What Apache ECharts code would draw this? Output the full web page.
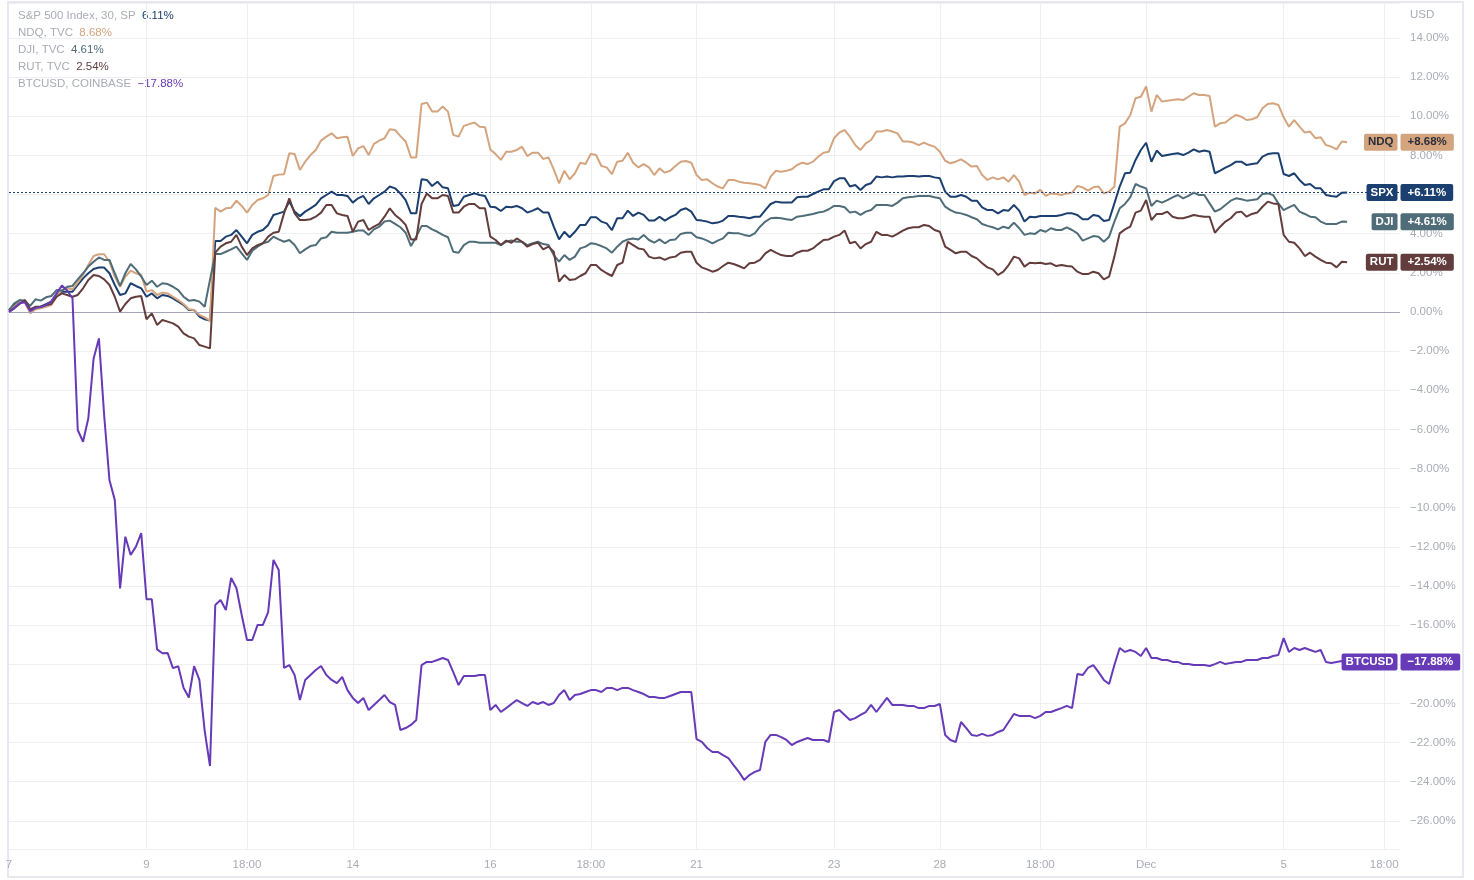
<!DOCTYPE html>
<html><head><meta charset="utf-8">
<script src="https://cdn.jsdelivr.net/npm/echarts@6/dist/echarts.min.js"></script>
<style>html,body{margin:0;padding:0;background:#fff}#chart{width:1474px;height:880px}</style>
</head><body><div id="chart"></div>
<script>
const spx = [
0.1,0.35,0.58,0.53,0.1,0.27,0.27,0.4,0.53,0.87,
1.04,1.04,1.04,1.38,1.72,1.98,2.2,2.27,2.27,1.98,
1.38,0.87,0.95,1.47,1.33,1.21,0.78,0.95,0.7,0.87,
0.82,0.7,0.53,0.36,0.1,0.1,-0.24,-0.37,-0.44,3.63,
3.63,3.85,3.94,4.19,3.85,3.51,3.94,4.1,4.19,4.45,
4.96,5.04,5.13,5.64,5.13,4.9,5.13,5.3,5.47,5.81,
5.98,6.15,5.98,5.98,5.93,5.59,5.81,5.93,5.52,5.81,
5.98,6.15,6.41,6.32,6.06,5.72,5.04,5.04,6.78,6.75,
6.44,6.66,6.37,6.32,5.42,5.47,5.89,5.98,6.06,5.98,
5.93,5.38,5.35,5.16,5.38,5.35,5.42,5.3,5.08,5.18,
5.3,5.08,5.08,4.36,3.71,4.1,3.82,4.1,4.45,4.45,
4.84,4.84,4.62,4.53,4.19,4.79,4.79,5.18,4.91,5.08,
4.96,4.67,4.67,4.87,4.67,4.84,4.96,5.21,5.3,5.13,
4.7,4.67,4.62,4.53,4.57,4.67,4.91,4.91,4.87,4.84,
4.79,4.87,4.87,5.21,5.52,5.64,5.6,5.6,5.6,5.86,
5.89,5.89,6.03,6.15,6.27,6.27,6.69,6.83,6.83,6.41,
6.49,6.24,6.49,6.58,6.92,6.88,6.92,6.88,6.92,6.92,
6.95,6.95,6.92,6.95,6.95,6.88,6.83,6.15,5.89,5.89,
5.98,5.89,5.69,5.69,5.35,5.21,5.21,5.04,5.21,5.18,
5.47,5.18,4.62,4.87,4.84,4.91,4.91,4.91,4.91,4.96,
5.04,5.04,4.96,4.74,4.74,4.96,4.91,4.65,4.7,5.55,
6.41,7.09,7.12,7.77,8.28,8.65,7.68,8.25,7.97,8.02,
8.07,8.11,8.02,8.14,8.31,8.19,8.25,8.19,7.09,7.23,
7.38,7.51,7.68,7.68,7.51,7.56,7.6,7.94,8.07,8.11,
8.11,7.05,6.95,7.09,6.75,6.49,6.54,6.32,6.32,5.98,
5.93,5.89,6.1,6.11];
const ndq = [
0.1,0.27,0.53,0.48,-0.07,0.14,0.19,0.27,0.36,0.78,
1.12,1.21,1.16,1.5,1.89,2.4,2.86,2.95,2.95,2.57,
1.81,1.29,1.81,2.11,1.98,1.89,1.04,1.12,0.87,0.99,
0.95,0.78,0.61,0.41,0.14,0.1,-0.15,-0.27,-0.44,5.33,
5.13,5.3,5.33,5.69,5.42,5.08,5.47,5.72,5.81,5.98,
6.95,7.02,7.04,8.11,8.07,7.26,7.68,8.02,8.28,8.76,
8.96,9.13,8.88,8.93,8.96,7.97,8.36,8.48,8.02,8.59,
8.76,8.88,9.34,9.3,8.99,8.71,7.9,7.9,10.63,10.7,
10.24,10.24,10.5,10.24,9.05,8.96,9.51,9.6,9.68,9.47,
9.44,8.31,8.07,7.77,8.19,8.19,8.28,8.45,7.97,8.14,
8.14,7.82,7.9,7.29,6.58,7.22,6.78,7.09,7.63,7.56,
8.07,8.02,7.46,7.39,7.05,7.68,7.73,8.14,7.63,7.39,
7.56,7.39,7.0,7.34,7.12,7.22,7.46,7.68,7.72,7.63,
7.0,6.75,6.78,6.58,6.41,6.32,6.75,6.75,6.66,6.61,
6.58,6.54,6.49,6.32,6.92,7.22,7.17,7.22,7.29,7.51,
7.63,7.56,7.68,7.94,8.14,8.19,8.88,9.17,9.3,8.96,
8.53,8.28,8.62,8.79,9.22,9.22,9.3,9.22,9.13,8.71,
8.71,8.66,8.53,8.66,8.53,8.45,8.19,7.73,7.6,7.68,
7.8,7.63,7.43,7.46,7.0,6.75,6.88,6.78,6.88,6.66,
7.0,6.66,5.98,6.1,6.06,6.24,5.93,6.06,6.03,5.98,
6.06,6.1,6.44,6.37,6.2,6.37,6.41,6.06,6.15,6.41,
9.47,9.64,10.07,10.92,11.0,11.52,10.24,11.09,10.75,10.8,
10.83,10.87,10.83,11.0,11.18,11.09,11.09,11.04,9.47,9.64,
9.68,9.9,10.07,9.98,9.81,9.85,9.95,10.41,10.63,10.67,
10.58,9.95,9.47,9.81,9.47,9.17,9.22,8.88,8.93,8.53,
8.45,8.31,8.71,8.68];
const dji = [
0.1,0.44,0.61,0.58,0.31,0.65,0.58,0.75,0.82,1.12,
1.09,1.29,1.33,1.67,1.98,2.32,2.57,2.79,2.66,2.66,
1.98,1.33,1.98,2.45,2.18,1.81,1.38,1.6,1.29,1.47,
1.43,1.29,1.12,0.78,0.58,0.61,0.53,0.27,1.64,2.96,
2.96,3.08,3.2,3.34,3.0,2.66,3.13,3.34,3.51,3.59,
3.85,3.71,3.59,3.68,3.42,3.0,3.2,3.37,3.42,3.76,
3.82,4.1,4.05,4.05,4.05,4.1,4.16,4.16,3.94,4.22,
4.36,4.62,4.67,4.5,4.33,4.05,3.37,3.85,4.39,4.39,
4.22,4.1,3.94,3.82,3.08,3.03,3.42,3.59,3.59,3.54,
3.54,3.54,3.54,3.42,3.59,3.65,3.59,3.59,3.42,3.51,
3.59,3.47,3.42,2.91,2.57,2.91,2.66,2.83,3.25,3.34,
3.51,3.47,3.37,3.25,3.03,3.34,3.59,3.71,3.76,3.71,
3.94,3.68,3.54,3.71,3.51,3.68,3.71,3.99,4.05,4.05,
3.82,3.76,3.65,3.51,3.65,3.76,4.05,4.02,4.02,3.94,
3.88,4.02,4.36,4.62,4.79,4.82,4.79,4.74,4.7,4.87,
4.91,4.96,5.01,5.08,5.13,5.25,5.42,5.42,5.35,5.08,
5.13,4.96,5.13,5.21,5.47,5.47,5.47,5.42,5.59,5.81,
5.86,5.89,5.93,5.93,5.93,5.86,5.81,5.38,5.21,5.08,
5.04,4.96,4.84,4.74,4.5,4.4,4.33,4.22,4.36,4.28,
4.57,4.28,3.94,4.02,3.99,4.19,4.1,4.28,4.19,4.19,
4.33,4.19,4.02,3.65,3.76,3.88,3.85,3.59,3.85,4.62,
5.3,5.52,5.86,6.54,6.41,6.32,5.42,5.69,5.59,5.72,
5.86,5.98,5.81,5.93,6.1,5.98,5.98,5.55,5.13,5.25,
5.47,5.69,5.81,5.76,5.69,5.72,5.76,6.03,6.06,5.98,
5.55,5.21,5.35,5.47,5.13,5.01,4.87,4.84,4.62,4.5,
4.5,4.5,4.62,4.61];
const rut = [
0.02,0.19,0.41,0.61,0.14,0.24,0.27,0.36,0.41,0.78,
0.95,0.87,0.78,0.87,1.21,1.64,1.89,1.84,1.67,1.38,
0.78,0.02,0.41,0.7,0.78,0.82,-0.37,-0.07,-0.66,-0.41,
-0.49,-0.58,-0.75,-1.09,-1.26,-1.35,-1.69,-1.77,-1.86,3.03,
3.34,3.51,3.59,3.94,3.34,2.91,3.25,3.42,3.51,3.85,
4.05,4.1,5.04,5.81,5.04,4.7,4.7,4.74,4.87,5.08,
5.47,5.47,5.04,4.96,4.91,4.1,4.62,4.7,4.19,4.36,
4.5,4.87,5.3,4.96,4.74,4.45,3.71,3.71,5.52,6.06,
5.81,5.81,5.98,5.93,5.08,5.08,5.38,5.52,5.52,5.3,
5.3,3.85,3.68,3.42,3.65,3.54,3.76,3.59,3.34,3.47,
3.54,3.2,3.34,3.08,1.55,1.89,1.64,1.67,1.84,1.98,
2.4,2.4,2.15,1.98,1.84,2.4,2.52,3.59,3.42,3.25,
3.2,2.83,2.74,2.79,2.66,2.79,2.83,3.03,3.08,3.08,
2.52,2.28,2.18,2.06,2.15,2.35,2.52,2.45,2.35,2.23,
2.49,2.52,2.66,3.0,3.17,3.03,2.91,2.86,2.86,3.03,
3.13,3.13,3.25,3.47,3.68,3.71,3.85,3.94,4.16,3.51,
3.59,3.25,3.47,3.59,4.1,3.94,3.94,3.85,3.99,4.16,
4.28,4.33,4.33,4.45,4.39,4.19,4.1,3.34,3.17,3.0,
3.08,3.08,2.86,2.74,2.49,2.28,2.18,1.89,2.06,2.4,
2.83,2.74,2.32,2.52,2.49,2.52,2.45,2.49,2.35,2.4,
2.35,2.32,2.06,1.94,1.94,2.06,1.98,1.67,1.81,2.83,
4.02,4.22,4.36,5.08,5.18,5.72,4.7,5.01,5.01,5.13,
4.87,4.79,4.79,4.87,4.96,4.91,4.87,4.87,4.05,4.36,
4.62,4.79,5.08,5.13,4.87,5.01,5.08,5.38,5.64,5.55,
5.52,3.94,3.59,3.54,3.25,2.86,3.03,2.83,2.66,2.52,
2.49,2.28,2.57,2.54];
const btc = [
0,0.2,0.45,0.5,0.05,0.2,0.25,0.35,0.55,0.95,
1.35,1.1,0.7,-6.03,-6.63,-5.43,-2.37,-1.35,-5.3,-8.6,
-9.6,-14.12,-11.48,-12.42,-11.99,-11.3,-14.68,-14.68,-17.24,-17.44,
-17.43,-18.2,-18.1,-19.2,-19.7,-18.1,-18.8,-21.4,-23.2,-14.97,
-14.72,-15.23,-13.59,-14.1,-15.48,-16.76,-16.76,-15.99,-15.99,-15.33,
-12.67,-13.18,-18.19,-18.04,-18.55,-19.83,-18.8,-18.55,-18.29,-18.09,
-18.55,-18.8,-18.96,-18.65,-19.32,-19.72,-19.98,-19.72,-20.34,-20.08,
-19.83,-19.57,-19.93,-20.08,-21.36,-21.26,-21.1,-20.85,-18.04,-17.88,
-17.88,-17.78,-17.68,-17.78,-18.4,-19.06,-18.6,-18.6,-18.6,-18.55,
-18.55,-20.34,-20.08,-20.44,-20.24,-20.03,-19.83,-19.98,-20.13,-19.93,
-20.03,-19.93,-20.08,-19.98,-19.57,-19.32,-19.83,-19.57,-19.52,-19.42,
-19.32,-19.32,-19.42,-19.21,-19.21,-19.32,-19.21,-19.21,-19.32,-19.42,
-19.52,-19.67,-19.67,-19.72,-19.72,-19.62,-19.52,-19.42,-19.42,-19.42,
-21.82,-21.97,-22.28,-22.48,-22.48,-22.64,-22.79,-23.15,-23.5,-23.91,
-23.66,-23.5,-23.4,-21.97,-21.61,-21.61,-21.72,-21.87,-22.13,-21.97,
-21.87,-21.77,-21.87,-21.87,-21.87,-21.97,-20.44,-20.34,-20.59,-20.85,
-20.75,-20.59,-20.44,-20.08,-20.44,-20.08,-19.72,-20.08,-20.08,-20.08,
-20.13,-20.13,-20.24,-20.24,-20.13,-20.13,-20.03,-21.61,-21.87,-21.97,
-20.95,-21.26,-21.61,-21.66,-21.56,-21.66,-21.61,-21.46,-21.36,-20.95,
-20.54,-20.64,-20.64,-20.64,-20.75,-20.64,-20.44,-20.44,-20.34,-20.24,
-20.13,-20.24,-18.5,-18.55,-18.19,-18.04,-18.4,-18.8,-19.01,-18.04,
-17.17,-17.37,-17.27,-17.37,-17.58,-17.17,-17.68,-17.68,-17.78,-17.78,
-17.88,-17.88,-17.99,-17.99,-18.04,-18.04,-18.04,-18.09,-17.99,-17.88,
-17.99,-17.93,-17.88,-17.88,-17.78,-17.78,-17.78,-17.68,-17.68,-17.58,
-17.53,-16.66,-17.37,-17.17,-17.27,-17.17,-17.27,-17.37,-17.27,-17.88,
-17.93,-17.88,-17.83,-17.88];

const seriesNames = ['SPX', 'NDQ', 'DJI', 'RUT', 'BTCUSD'];
const legendNames = ['S&P 500 Index, 30, SP', 'NDQ, TVC', 'DJI, TVC', 'RUT, TVC', 'BTCUSD, COINBASE'];
const tickLabels = {0:'7', 26:'9', 45:'18:00', 65:'14', 91:'16', 110:'18:00', 130:'21', 156:'23', 176:'28', 195:'18:00', 215:'Dec', 241:'5', 260:'18:00'};
const barCount = 264;
const categories = Array.from({length: barCount}, (_, i) => String(i));

const colors = ['#1b3f6e', '#d4a47f', '#4f6c79', '#633c3c', '#673ab7'];
const boxText = ['#ffffff', '#2a2e39', '#ffffff', '#ffffff', '#ffffff'];
const FONT = '"Liberation Sans", Arial, sans-serif';
const GREY = '#a9acb5';

const fmtPct = v => (v < 0 ? '\u2212' : '') + Math.abs(v).toFixed(2) + '%';
const fmtSigned = v => (v < 0 ? '\u2212' : '+') + Math.abs(v).toFixed(2) + '%';

const allData = [spx, ndq, dji, rut, btc];

const series = allData.map((d, k) => {
  const last = d.length - 1;
  const boxLabel = {
    show: true, backgroundColor: colors[k], color: boxText[k], fontSize: 11.5,
    fontWeight: 'bold', fontFamily: FONT, borderRadius: 2, lineHeight: 12
  };
  const s = {
    name: seriesNames[k], type: 'line', data: d, showSymbol: false, symbol: 'none',
    lineStyle: {color: colors[k], width: 2}, itemStyle: {color: colors[k]},
    z: 3 + k, animation: false, silent: true,
    markPoint: {
      symbol: 'rect', symbolSize: 1, itemStyle: {color: 'rgba(0,0,0,0)'},
      animation: false, z: 20, silent: true,
      data: [
        {coord: [last, d[last]], x: 1398,
          label: Object.assign({}, boxLabel, {position: 'left', distance: 0, padding: [3, 4, 2, 4], formatter: seriesNames[k]})},
        {coord: [last, d[last]], x: 1400,
          label: Object.assign({}, boxLabel, {position: 'right', distance: 0, padding: [3, 7, 2, 7], formatter: fmtSigned(d[last])})}
      ]
    }
  };
  if (k === 0) {
    s.markLine = {
      symbol: 'none', silent: true, animation: false, label: {show: false},
      data: [
        {yAxis: d[last], lineStyle: {type: [2, 2], color: colors[0], width: 1}},
        {yAxis: 0, lineStyle: {type: 'solid', color: '#a7a4b8', width: 1}}
      ]
    };
  }
  return s;
});

const legendGraphics = legendNames.map((n, k) => {
  const d = allData[k];
  const v = d[d.length - 1];
  return {
    type: 'text', left: 18, top: 10 + k * 17, silent: true,
    style: {
      text: '{n|' + n + '}  {v|' + fmtPct(v) + '}',
      fontSize: 11.5, fontFamily: FONT, fill: GREY,
      rich: {n: {fill: GREY, fontSize: 11.5, fontFamily: FONT}, v: {fill: colors[k], fontSize: 11.5, fontFamily: FONT}}
    }
  };
});

const chart = echarts.init(document.getElementById('chart'), null, {renderer: 'canvas'});
chart.setOption({
  animation: false,
  backgroundColor: '#ffffff',
  grid: {left: 9, right: 74, top: 3, bottom: 31},
  xAxis: {
    type: 'category', data: categories, boundaryGap: false,
    axisLine: {show: false}, axisTick: {show: false},
    axisLabel: {
      interval: (i) => tickLabels[i] !== undefined,
      formatter: (v, i) => tickLabels[i] || '',
      color: GREY, fontSize: 11.5, fontFamily: FONT, margin: 10
    },
    splitLine: {show: true, interval: (i) => tickLabels[i] !== undefined && i > 0, lineStyle: {color: '#efeff3', width: 1}}
  },
  yAxis: {
    type: 'value', position: 'right', min: -27.44, max: 15.79, splitNumber: 21,
    axisLine: {show: false}, axisTick: {show: false},
    axisLabel: {color: GREY, fontSize: 11.5, fontFamily: FONT, margin: 10, showMinLabel: false, showMaxLabel: false, formatter: fmtPct},
    splitLine: {show: true, lineStyle: {color: '#efeff3', width: 1}}
  },
  graphic: [
    {type: 'rect', silent: true, z: -1, shape: {x: 8, y: 2, width: 1455, height: 875}, style: {fill: 'none', stroke: '#e8e9f0', lineWidth: 2}},
    {type: 'text', left: 1410, top: 9, silent: true, style: {text: 'USD', fontSize: 11.5, fontFamily: FONT, fill: GREY}}
  ].concat(legendGraphics),
  series: series
});
</script>
</body></html>
